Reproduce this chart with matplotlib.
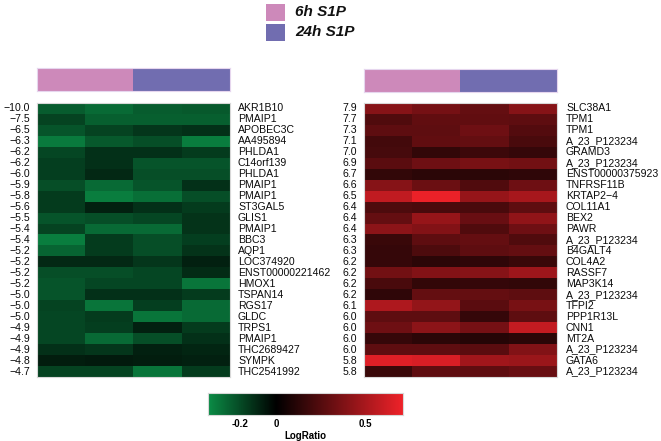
import numpy as np
import matplotlib
matplotlib.use("Agg")
import matplotlib.pyplot as plt
from matplotlib.colors import LinearSegmentedColormap, Normalize
from matplotlib.patches import Rectangle

plt.rcParams['font.family'] = ['Liberation Sans', 'DejaVu Sans']

# ---------------- data ----------------
left_genes = ["AKR1B10", "PMAIP1", "APOBEC3C", "AA495894", "PHLDA1", "C14orf139", "PHLDA1",
              "PMAIP1", "PMAIP1", "ST3GAL5", "GLIS1", "PMAIP1", "BBC3", "AQP1", "LOC374920",
              "ENST00000221462", "HMOX1", "TSPAN14", "RGS17", "GLDC", "TRPS1", "PMAIP1",
              "THC2689427", "SYMPK", "THC2541992"]
left_fold = ["\u221210.0", "\u22127.5", "\u22126.5", "\u22126.3", "\u22126.2", "\u22126.2", "\u22126.0",
             "\u22125.9", "\u22125.8", "\u22125.6", "\u22125.5", "\u22125.4", "\u22125.4", "\u22125.2",
             "\u22125.2", "\u22125.2", "\u22125.2", "\u22125.0", "\u22125.0", "\u22125.0", "\u22124.9",
             "\u22124.9", "\u22124.9", "\u22124.8", "\u22124.7"]
left_values = [
    [-0.25, -0.29, -0.25, -0.24],
    [-0.18, -0.26, -0.26, -0.26],
    [-0.23, -0.18, -0.15, -0.13],
    [-0.33, -0.24, -0.21, -0.34],
    [-0.19, -0.13, -0.13, -0.16],
    [-0.17, -0.13, -0.23, -0.23],
    [-0.17, -0.11, -0.21, -0.21],
    [-0.21, -0.29, -0.23, -0.13],
    [-0.16, -0.34, -0.30, -0.21],
    [-0.16, -0.09, -0.13, -0.16],
    [-0.23, -0.21, -0.19, -0.14],
    [-0.18, -0.29, -0.29, -0.14],
    [-0.34, -0.16, -0.21, -0.17],
    [-0.27, -0.16, -0.21, -0.14],
    [-0.11, -0.11, -0.15, -0.09],
    [-0.21, -0.21, -0.19, -0.12],
    [-0.23, -0.19, -0.19, -0.32],
    [-0.23, -0.13, -0.13, -0.16],
    [-0.18, -0.32, -0.17, -0.29],
    [-0.19, -0.16, -0.32, -0.29],
    [-0.19, -0.17, -0.09, -0.16],
    [-0.19, -0.29, -0.21, -0.13],
    [-0.13, -0.15, -0.09, -0.10],
    [-0.08, -0.07, -0.08, -0.09],
    [-0.18, -0.18, -0.32, -0.16],
]

right_genes = ["SLC38A1", "TPM1", "TPM1", "A_23_P123234", "GRAMD3", "A_23_P123234",
               "ENST00000375923", "TNFRSF11B", "KRTAP2\u22124", "COL11A1", "BEX2", "PAWR",
               "A_23_P123234", "B4GALT4", "COL4A2", "RASSF7", "MAP3K14", "A_23_P123234",
               "TFPI2", "PPP1R13L", "CNN1", "MT2A", "A_23_P123234", "GATA6", "A_23_P123234"]
right_fold = ["7.9", "7.7", "7.3", "7.1", "7.0", "6.9", "6.7", "6.6", "6.5", "6.4", "6.4", "6.4",
              "6.3", "6.3", "6.2", "6.2", "6.2", "6.2", "6.1", "6.0", "6.0", "6.0", "6.0", "5.8", "5.8"]
right_values = [
    [0.40, 0.35, 0.30, 0.40],
    [0.24, 0.29, 0.29, 0.28],
    [0.28, 0.28, 0.33, 0.25],
    [0.20, 0.29, 0.30, 0.22],
    [0.21, 0.15, 0.18, 0.16],
    [0.27, 0.33, 0.36, 0.34],
    [0.15, 0.13, 0.13, 0.14],
    [0.40, 0.32, 0.24, 0.33],
    [0.57, 0.70, 0.45, 0.50],
    [0.23, 0.22, 0.22, 0.28],
    [0.30, 0.45, 0.31, 0.43],
    [0.42, 0.39, 0.24, 0.33],
    [0.17, 0.28, 0.30, 0.24],
    [0.16, 0.23, 0.28, 0.30],
    [0.16, 0.13, 0.14, 0.17],
    [0.34, 0.39, 0.40, 0.47],
    [0.22, 0.15, 0.16, 0.15],
    [0.14, 0.30, 0.30, 0.28],
    [0.52, 0.44, 0.27, 0.36],
    [0.28, 0.28, 0.16, 0.28],
    [0.33, 0.42, 0.35, 0.58],
    [0.16, 0.13, 0.11, 0.13],
    [0.28, 0.28, 0.27, 0.39],
    [0.66, 0.64, 0.48, 0.46],
    [0.17, 0.28, 0.28, 0.31],
]

groups = ["6h S1P", "24h S1P"]
group_of_column = [0, 0, 1, 1]
group_colors = ["#CD89BA", "#716DB0"]

cbar_ticks = [-0.2, 0, 0.5]
cbar_ticklabels = ["-0.2", "0", "0.5"]
vmin, vmax = -0.38, 0.71

# ---------------- figure ----------------
W, H = 661, 441
fig = plt.figure(figsize=(W / 100, H / 100), dpi=100)


def px_axes(x0, y0, x1, y1):
    return fig.add_axes([x0 / W, 1 - y1 / H, (x1 - x0) / W, (y1 - y0) / H])


f0 = -vmin / (vmax - vmin)
cmap = LinearSegmentedColormap.from_list(
    "gbr", [(0, "#0B8C46"), (f0, "#000000"), (1, "#EE2229")])
norm = Normalize(vmin, vmax)

edge = "#d8d8d8"


def heat(x0, x1, values, genes, folds, gene_x, fold_x, clip_px=None):
    ax = px_axes(x0, 103, x1, 377)
    ax.imshow(np.array(values), cmap=cmap, norm=norm, aspect="auto", interpolation="nearest")
    ax.set_xticks([])
    ax.set_yticks([])
    for s in ax.spines.values():
        s.set_color(edge)
        s.set_linewidth(0.8)
    tr = matplotlib.transforms.blended_transform_factory(ax.transAxes, ax.transData)
    for i, (g, f) in enumerate(zip(genes, folds)):
        t = ax.text(gene_x, i, g, transform=tr, ha="left", va="center", fontsize=7.6,
                    color="#0a0a0a", clip_on=False)
        if clip_px is not None:
            bbox = matplotlib.transforms.Bbox.from_extents(0, 0, clip_px, H)
            t.set_clip_box(matplotlib.transforms.TransformedBbox(bbox, matplotlib.transforms.IdentityTransform()))
            t.set_clip_on(True)
        ax.text(fold_x, i, f, transform=tr, ha="right", va="center", fontsize=7.6, color="#0a0a0a")
    return ax


w = 193.0
heat(37, 230, left_values, left_genes, left_fold, (238 - 37) / w, (30 - 37) / w, clip_px=330)
heat(364, 557, right_values, right_genes, right_fold, (566 - 364) / w, (357 - 364) / w)


def group_bar(x0, x1, y0, y1):
    ax = px_axes(x0, y0, x1, y1)
    ax.imshow(np.array([group_of_column]), cmap=matplotlib.colors.ListedColormap(group_colors),
              aspect="auto", interpolation="nearest", vmin=0, vmax=1)
    ax.set_xticks([])
    ax.set_yticks([])
    for s in ax.spines.values():
        s.set_color("#e6d6ee")
        s.set_linewidth(0.8)


group_bar(37, 230, 68, 91)
group_bar(364, 557, 69, 92)

# legend
lax = px_axes(0, 0, W, H)
lax.set_xlim(0, W)
lax.set_ylim(H, 0)
lax.set_axis_off()
for k, (g, c) in enumerate(zip(groups, group_colors)):
    y0 = 4 + k * 20
    lax.add_patch(Rectangle((266, y0), 19, 17, facecolor=c, edgecolor="none"))
    lax.text(295, y0 + 8.5, g, ha="left", va="center", fontsize=11,
             fontweight="bold", fontstyle="italic", color="#111111")

# colorbar
cax = px_axes(208, 393, 403, 415)
grad = np.linspace(vmin, vmax, 400)[None, :]
cax.imshow(grad, cmap=cmap, norm=norm, aspect="auto", extent=[vmin, vmax, 0, 1])
cax.set_yticks([])
cax.set_xticks(cbar_ticks)
cax.set_xticklabels(cbar_ticklabels, fontsize=7, fontweight="bold")
cax.tick_params(axis="x", length=0, pad=3)
for s in cax.spines.values():
    s.set_color(edge)
    s.set_linewidth(0.8)
cax.set_xlabel("LogRatio", fontsize=7, fontweight="bold", labelpad=1)

fig.savefig("out.png", dpi=100)
